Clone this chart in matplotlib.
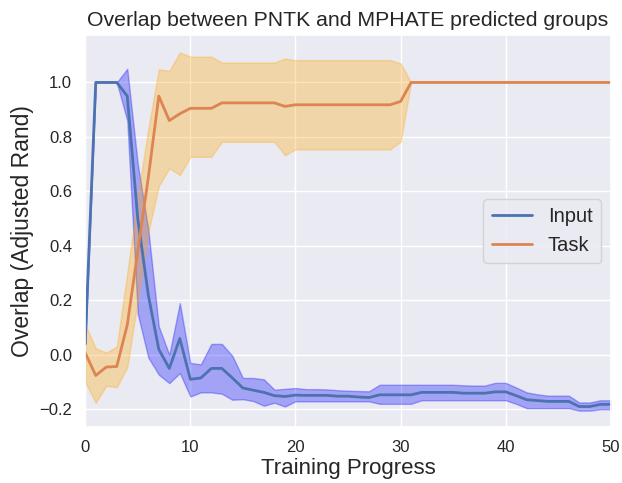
import numpy as np
import matplotlib
matplotlib.use("Agg")
import matplotlib.pyplot as plt
import seaborn as sns

# ========= data =========
steps = np.arange(0, 51)

input_mean = [0.04, 1.0, 1.0, 1.0, 0.95, 0.50, 0.22, 0.02, -0.05, 0.06,
              -0.09, -0.085, -0.05, -0.05, -0.085, -0.122, -0.13, -0.138, -0.15, -0.153,
              -0.148, -0.149, -0.149, -0.149, -0.152, -0.152, -0.155, -0.157, -0.147, -0.147,
              -0.147, -0.147, -0.138, -0.138, -0.138, -0.138, -0.141, -0.141, -0.141, -0.136,
              -0.136, -0.15, -0.165, -0.168, -0.171, -0.171, -0.171, -0.19, -0.19, -0.182,
              -0.182]
input_hi = [0.04, 1.0, 1.0, 1.0, 1.05, 0.70, 0.46, 0.104, 0.0, 0.19,
            -0.03, -0.035, 0.04, 0.04, -0.004, -0.085, -0.085, -0.09, -0.128, -0.125,
            -0.122, -0.126, -0.126, -0.127, -0.13, -0.132, -0.133, -0.134, -0.11, -0.11,
            -0.11, -0.11, -0.11, -0.11, -0.11, -0.11, -0.112, -0.113, -0.113, -0.103,
            -0.103, -0.12, -0.138, -0.145, -0.15, -0.15, -0.15, -0.175, -0.175, -0.167,
            -0.167]
input_lo = [0.04, 1.0, 1.0, 1.0, 0.86, 0.15, -0.01, -0.073, -0.104, -0.067,
            -0.153, -0.138, -0.138, -0.143, -0.165, -0.163, -0.17, -0.187, -0.176, -0.19,
            -0.171, -0.171, -0.171, -0.171, -0.171, -0.171, -0.171, -0.171, -0.18, -0.18,
            -0.18, -0.18, -0.167, -0.167, -0.167, -0.167, -0.167, -0.167, -0.167, -0.167,
            -0.167, -0.18, -0.196, -0.196, -0.196, -0.196, -0.196, -0.205, -0.205, -0.2,
            -0.2]

task_mean = [0.007, -0.076, -0.045, -0.043, 0.11, 0.38, 0.65, 0.95, 0.86, 0.885,
             0.905, 0.905, 0.905, 0.925, 0.925, 0.925, 0.925, 0.925, 0.925, 0.912,
             0.918, 0.918, 0.918, 0.918, 0.918, 0.918, 0.918, 0.918, 0.918, 0.918,
             0.93, 1.0, 1.0, 1.0, 1.0, 1.0, 1.0, 1.0, 1.0, 1.0,
             1.0, 1.0, 1.0, 1.0, 1.0, 1.0, 1.0, 1.0, 1.0, 1.0,
             1.0]
task_hi = [0.11, 0.024, 0.008, 0.03, 0.30, 0.58, 0.83, 1.048, 1.043, 1.11,
           1.095, 1.095, 1.095, 1.073, 1.073, 1.073, 1.073, 1.073, 1.073, 1.088,
           1.082, 1.082, 1.082, 1.082, 1.082, 1.082, 1.082, 1.082, 1.082, 1.082,
           1.07, 1.0, 1.0, 1.0, 1.0, 1.0, 1.0, 1.0, 1.0, 1.0,
           1.0, 1.0, 1.0, 1.0, 1.0, 1.0, 1.0, 1.0, 1.0, 1.0,
           1.0]
task_lo = [-0.1, -0.176, -0.114, -0.119, -0.045, 0.20, 0.45, 0.62, 0.685, 0.66,
           0.727, 0.727, 0.727, 0.782, 0.782, 0.782, 0.782, 0.782, 0.782, 0.733,
           0.754, 0.754, 0.754, 0.754, 0.754, 0.754, 0.754, 0.754, 0.754, 0.754,
           0.782, 1.0, 1.0, 1.0, 1.0, 1.0, 1.0, 1.0, 1.0, 1.0,
           1.0, 1.0, 1.0, 1.0, 1.0, 1.0, 1.0, 1.0, 1.0, 1.0,
           1.0]

sns.set_theme(style="darkgrid")
plt.rcParams['font.family'] = ['Liberation Sans', 'DejaVu Sans']
pal = sns.color_palette("deep")

fig = plt.figure(figsize=(6.22, 4.83), dpi=100)
ax = fig.add_axes([0.137, 0.116, 0.845, 0.812])

# bands first, lines on top
ax.fill_between(steps, input_lo, input_hi, color="blue", alpha=0.3, lw=1)
ax.fill_between(steps, task_lo, task_hi, color="orange", alpha=0.3, lw=1)
ax.plot(steps, input_mean, color=pal[0], lw=2, label="Input")
ax.plot(steps, task_mean, color=pal[1], lw=2, label="Task")

ax.set_xlim(0, 50)
ax.set_ylim(-0.265, 1.175)
ax.set_yticks([-0.2, 0.0, 0.2, 0.4, 0.6, 0.8, 1.0])
ax.tick_params(labelsize=12)

ax.set_title("Overlap between PNTK and MPHATE predicted groups", fontsize=15.3)
ax.set_xlabel("Training Progress", fontsize=16, labelpad=2)
ax.set_ylabel("Overlap (Adjusted Rand)", fontsize=16.5)
ax.legend(loc="center right", fontsize=14.5)

fig.savefig("out.png", dpi=100)
